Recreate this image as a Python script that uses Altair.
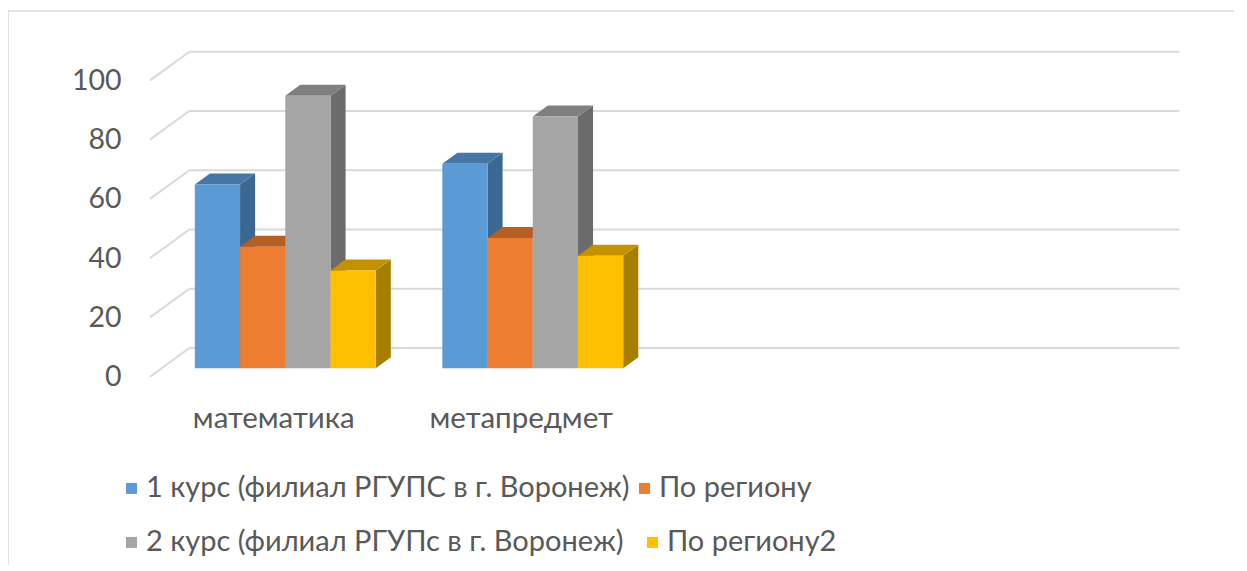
import altair as alt
import pandas as pd

# ---- data ----
categories = ["математика", "метапредмет", "", ""]
series = [
    "1 курс (филиал РГУПС в г. Воронеж)",
    "По региону",
    "2 курс (филиал РГУПс в г. Воронеж)",
    "По региону2",
]
values_s1 = [62, 69]
values_s2 = [41, 44]
values_s3 = [92, 85]
values_s4 = [33, 38]
y_ticks = [0, 20, 40, 60, 80, 100]

# ---- style ----
front_colors = ["#5B9BD5", "#ED7D31", "#A5A5A5", "#FFC000"]
top_colors = ["#4676A6", "#B55F25", "#7F7F7F", "#C49200"]
side_colors = ["#3B6890", "#9E5320", "#6B6B6B", "#A67E00"]
TEXT = "#595959"
GRID = "#D9D9D9"
FONT = "Lato"
FS = 29.5
FS_LEG = 29
FS_AX = 28.5

N_CAT = len(categories)
DX = 0.159      # full floor depth, in category units
DY = 9.68       # full floor depth, in value units
D0, D1 = 0.293, 0.676   # bar front/back depth fractions
GROUP = 0.731
BW = GROUP / len(series)
GL = (1 - GROUP) / 2

all_values = [values_s1, values_s2, values_s3, values_s4]

front_rows, side_rows, top_rows = [], [], []
for i in range(len(values_s1)):
    for j, vals in enumerate(all_values):
        v = vals[i]
        xl = i + GL + j * BW
        xr = xl + BW
        bid = f"{i}-{j}"
        front_rows.append(dict(x=xl + D0 * DX, x2=xr + D0 * DX, y=D0 * DY,
                               y2=v + D0 * DY, series=series[j], sj=j))
        for d in (D0, D1):
            side_rows.append(dict(bid=bid, xs=xr + d * DX, ylo=d * DY,
                                  yhi=v + d * DY, c=side_colors[j]))
            top_rows.append(dict(bid=bid, yt=v + d * DY, xa=xl + d * DX,
                                 xb=xr + d * DX, c=top_colors[j]))

grid_rows = []
for t in y_ticks:
    grid_rows.append(dict(x=0, x2=DX, y=t, y2=t + DY))
    grid_rows.append(dict(x=DX, x2=N_CAT + DX, y=t + DY, y2=t + DY))

label_rows = [dict(x=i + 0.5, y=0, text=c) for i, c in enumerate(categories) if c]

front = pd.DataFrame(front_rows)
side = pd.DataFrame(side_rows)
top = pd.DataFrame(top_rows)
grid = pd.DataFrame(grid_rows)
labels = pd.DataFrame(label_rows)
ticks_df = pd.DataFrame(dict(v=y_ticks))

W, H = 1029.3, 325
xs = alt.Scale(domain=[0, N_CAT + DX], nice=False, zero=False)
ys = alt.Scale(domain=[0, 100 + DY], nice=False, zero=False)
y_axis = alt.Axis(
    values=y_ticks, domain=False, ticks=False, grid=False, title=None,
    labelFont=FONT, labelFontSize=FS_AX, labelColor=TEXT, labelPadding=29)

grid_layer = alt.Chart(grid).mark_rule(color=GRID, strokeWidth=2).encode(
    x=alt.X("x:Q", scale=xs, axis=None),
    x2="x2:Q",
    y=alt.Y("y:Q", scale=ys, axis=y_axis),
    y2="y2:Q",
)

side_layer = alt.Chart(side).mark_area(line=False, opacity=1).encode(
    x=alt.X("xs:Q", scale=xs, axis=None),
    y=alt.Y("yhi:Q", scale=ys, axis=y_axis),
    y2="ylo:Q",
    detail="bid:N",
    color=alt.Color("c:N", scale=None, legend=None),
)

top_layer = alt.Chart(top).mark_area(orient="horizontal", line=False, opacity=1).encode(
    y=alt.Y("yt:Q", scale=ys, axis=y_axis),
    x=alt.X("xa:Q", scale=xs, axis=None),
    x2="xb:Q",
    detail="bid:N",
    color=alt.Color("c:N", scale=None, legend=None),
)


def front_part(idx, legend_y, col_pad):
    sub = front[front["sj"].isin(idx)]
    return alt.Chart(sub).mark_rect(opacity=1).encode(
        x=alt.X("x:Q", scale=xs, axis=None),
        x2="x2:Q",
        y=alt.Y("y:Q", scale=ys, axis=y_axis),
        y2="y2:Q",
        color=alt.Color(
            "series:N",
            scale=alt.Scale(domain=[series[k] for k in idx],
                            range=[front_colors[k] for k in idx]),
            legend=alt.Legend(
                title=None, orient="none", legendX=-33, legendY=legend_y,
                direction="horizontal", columns=2, symbolType="square",
                padding=0, symbolSize=121, symbolStrokeWidth=0,
                labelFont=FONT, labelFontSize=FS_LEG, labelColor=TEXT,
                labelLimit=2000, columnPadding=col_pad, labelOffset=0,
                symbolOpacity=1)),
    )


front_row1 = front_part([0, 1], 422, 0)
front_row2 = front_part([2, 3], 476, 14)

label_layer = alt.Chart(labels).mark_text(
    font=FONT, fontSize=FS, color=TEXT, baseline="middle", align="center", dy=42
).encode(
    x=alt.X("x:Q", scale=xs, axis=None),
    y=alt.Y("y:Q", scale=ys, axis=y_axis),
    text="text:N",
)

frame_v = alt.Chart(ticks_df.head(1)).mark_rule(color=GRID, strokeWidth=1.5).encode(
    x=alt.value(-142), y=alt.value(-40.7), y2=alt.value(560))
frame_h = alt.Chart(ticks_df.head(1)).mark_rule(color=GRID, strokeWidth=1.5).encode(
    x=alt.value(-142), x2=alt.value(1200), y=alt.value(-40.7))

chart = alt.layer(
    frame_v, frame_h, grid_layer, side_layer, top_layer,
    front_row1, front_row2, label_layer
).resolve_scale(color="independent").properties(
    width=W, height=H, background="white",
    autosize=alt.AutoSizeParams(type="none"),
    padding={"left": 142, "top": 43.7, "right": 55, "bottom": 188},
).configure_view(stroke=None)

chart.save("out.html", embed_options={"renderer": "svg", "actions": False})
